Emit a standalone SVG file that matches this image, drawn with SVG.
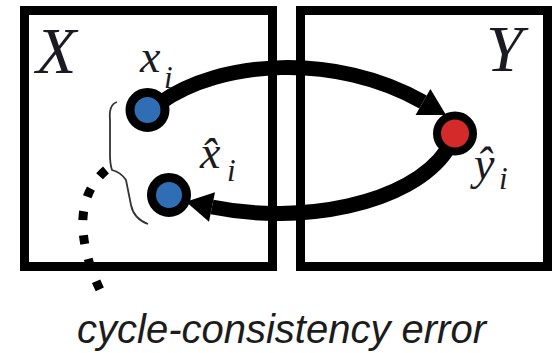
<svg xmlns="http://www.w3.org/2000/svg" width="556" height="353" viewBox="0 0 556 353">
<style>
.box{fill:none;stroke:#000;stroke-width:9}
.arr{fill:none;stroke:#000;stroke-width:15}
.pt{stroke:#000;stroke-width:9}
</style>
<defs>
<marker id="ah" markerUnits="userSpaceOnUse" markerWidth="30" markerHeight="30" refX="0" refY="13" orient="auto" viewBox="0 0 24 26">
<path d="M0,0 L23,13 L0,26 Z" fill="#000"/>
</marker>
</defs>
<g id="boxX">
<rect class="box" x="24.5" y="10.5" width="248" height="256"/>
<text font-family="Liberation Serif" font-style="italic" font-size="66" fill="#1a1a22" x="36" y="73">X</text>
</g>
<g id="boxY">
<rect class="box" x="300.5" y="10.5" width="247" height="256"/>
<text font-family="Liberation Serif" font-style="italic" font-size="66" fill="#1a1a22" x="486" y="71">Y</text>
</g>
<g id="connectors">
<path class="arr" d="M 160 103 C 220 60, 335 52, 423 102" marker-end="url(#ah)"/>
<path class="arr" d="M 447 150 C 410 205, 300 225, 212 207" marker-end="url(#ah)"/>
<path d="M 106 170 C 85 188, 78 215, 86 250 C 90 268, 96 282, 104 298" fill="none" stroke="#000" stroke-width="9" stroke-dasharray="9 15"/>
<path d="M 117 102 C 111 104, 109 110, 110 120 L 110 155 C 110 163, 111 167, 112 170 C 116 171, 122 174, 126 180 L 131 205 C 133 215, 140 221, 148 224" fill="none" stroke="#333" stroke-width="1.8"/>
</g>
<g id="xi">
<circle class="pt" cx="147.5" cy="110" r="17.5" fill="#2f6db5"/>
<text font-family="Liberation Serif" font-style="italic" font-size="46" fill="#1a1a22" x="140" y="72">x</text>
<text font-family="Liberation Serif" font-style="italic" font-size="31" fill="#1a1a22" x="164" y="88">i</text>
</g>
<g id="xhat">
<circle class="pt" cx="169" cy="195" r="17.5" fill="#2f6db5"/>
<text font-family="Liberation Serif" font-style="italic" font-size="46" fill="#1a1a22" x="200" y="168">x̂</text>
<text font-family="Liberation Serif" font-style="italic" font-size="31" fill="#1a1a22" x="227" y="181">i</text>
</g>
<g id="yhat">
<circle cx="455" cy="133.5" r="18" fill="#d42a2a" stroke="#000" stroke-width="8"/>
<text font-family="Liberation Serif" font-style="italic" font-size="46" fill="#1a1a22" x="474" y="179">ŷ</text>
<text font-family="Liberation Serif" font-style="italic" font-size="31" fill="#1a1a22" x="499" y="189">i</text>
</g>
<text font-family="Liberation Sans" font-style="italic" font-size="40" fill="#1c1c1c" x="77" y="343">cycle-consistency error</text>
</svg>
